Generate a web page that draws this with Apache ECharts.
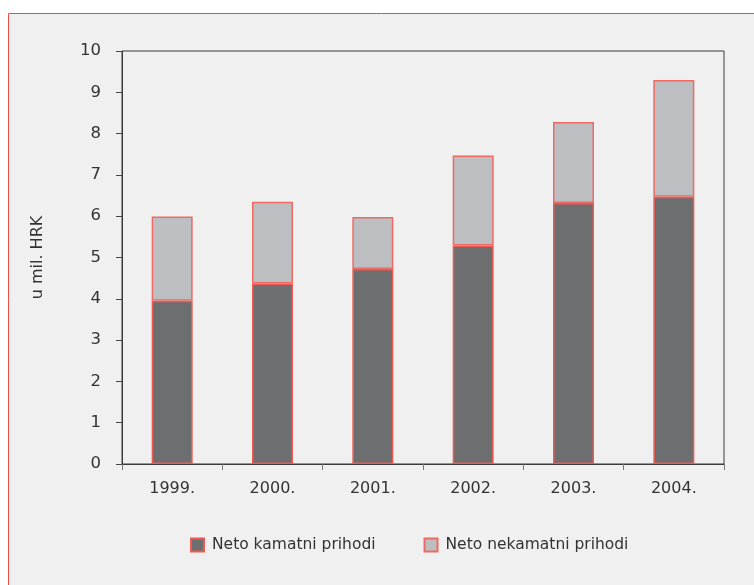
<!DOCTYPE html>
<html>
<head>
<meta charset="utf-8">
<script src="https://cdn.jsdelivr.net/npm/echarts@6/dist/echarts.min.js"></script>
<style>
html, body { margin: 0; padding: 0; background: #ffffff; }
#main { width: 754px; height: 585px; }
</style>
</head>
<body>
<div id="main"></div>
<script>
var years = ['1999.', '2000.', '2001.', '2002.', '2003.', '2004.'];
var kamatni = [3.95, 4.37, 4.72, 5.29, 6.32, 6.47];
var nekamatni = [2.04, 1.98, 1.26, 2.18, 1.96, 2.83];
var yTicks = [0, 1, 2, 3, 4, 5, 6, 7, 8, 9, 10];

var myChart = echarts.init(document.getElementById('main'));

var font = 'DejaVu Sans';
var option = {
    backgroundColor: '#ffffff',
    textStyle: { fontFamily: font },
    graphic: [{
        type: 'rect',
        z: -10,
        shape: { x: 8.5, y: 13.5, width: 760, height: 600 },
        style: { fill: '#eff0ef', stroke: '#ef4c45', lineWidth: 1 }
    }],
    grid: {
        left: 122,
        right: 30,
        top: 51,
        bottom: 121,
        show: true,
        borderColor: '#3a3a3a',
        borderWidth: 1,
        backgroundColor: 'transparent'
    },
    legend: {
        bottom: 27,
        left: 185,
        icon: 'rect',
        itemWidth: 13,
        itemHeight: 13,
        itemGap: 48,
        textStyle: { fontFamily: font, fontSize: 15.5, color: '#333', padding: [0, 0, 0, 3] },
        data: ['Neto kamatni prihodi', 'Neto nekamatni prihodi']
    },
    xAxis: {
        type: 'category',
        data: years,
        axisLine: { lineStyle: { color: '#3a3a3a', width: 1 } },
        axisTick: { show: true, alignWithLabel: false, length: 6, lineStyle: { color: '#777' } },
        axisLabel: { margin: 17, fontSize: 16, color: '#333', fontFamily: font }
    },
    yAxis: {
        type: 'value',
        min: yTicks[0],
        max: yTicks[yTicks.length - 1],
        interval: 1,
        name: 'u mil. HRK',
        nameLocation: 'middle',
        nameGap: 76,
        nameTextStyle: { fontSize: 16, color: '#333', fontFamily: font },
        axisLine: { show: true, lineStyle: { color: '#3a3a3a', width: 1 } },
        axisTick: { show: true, length: 6, lineStyle: { color: '#444' } },
        axisLabel: { margin: 21, fontSize: 16.5, color: '#333', fontFamily: font },
        splitLine: { show: false }
    },
    series: [
        {
            name: 'Neto kamatni prihodi',
            type: 'bar',
            stack: 'total',
            barWidth: 41,
            data: kamatni,
            itemStyle: { color: '#6d6e70', borderColor: '#ee5a52', borderWidth: 1.5 }
        },
        {
            name: 'Neto nekamatni prihodi',
            type: 'bar',
            stack: 'total',
            barWidth: 41,
            data: nekamatni,
            itemStyle: { color: '#bdbec1', borderColor: '#ee6a63', borderWidth: 1.5 }
        }
    ]
};
myChart.setOption(option);
</script>
</body>
</html>
